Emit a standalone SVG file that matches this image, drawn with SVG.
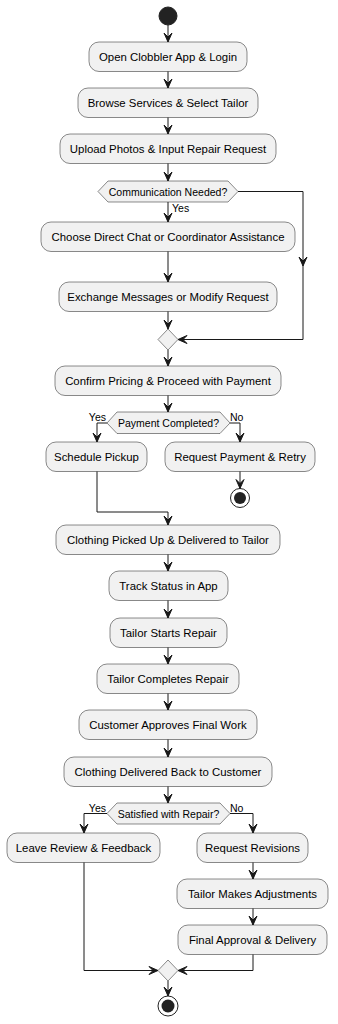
<svg xmlns="http://www.w3.org/2000/svg" width="338" height="1024" viewBox="0 0 338 1024">
<style>
.box{fill:#F1F1F1;stroke:#181818;stroke-width:0.5}
.t{font-family:"Liberation Sans",Arial,sans-serif;font-size:11.4px;fill:#000;text-anchor:middle}
.s{font-family:"Liberation Sans",Arial,sans-serif;font-size:10.5px;fill:#000}
.ln{fill:none;stroke:#181818;stroke-width:1}
.ah{fill:#181818;stroke:#181818;stroke-width:1}
</style>
<defs>
<polygon id="ad" points="-4,-9 0,0 4,-9 0,-5"/>
</defs>
<rect width="338" height="1024" fill="#FFFFFF"/>
<g id="start"><circle cx="168" cy="16" r="9" fill="#222222" stroke="#222222"/></g>
<g id="n1"><rect class="box" x="89" y="42" width="158" height="29.5" rx="10"/><text class="t" x="168" y="61">Open Clobbler App &amp; Login</text></g>
<g id="n2"><rect class="box" x="78" y="88" width="180" height="29.5" rx="10"/><text class="t" x="168" y="107">Browse Services &amp; Select Tailor</text></g>
<g id="n3"><rect class="box" x="60" y="134" width="216" height="29.5" rx="10"/><text class="t" x="168" y="153">Upload Photos &amp; Input Repair Request</text></g>
<g id="d1"><polygon class="box" points="98,191.5 108,181 228,181 238,191.5 228,202 108,202"/><text class="s" x="168" y="195.5" text-anchor="middle">Communication Needed?</text></g>
<g id="n4"><rect class="box" x="41" y="222" width="254" height="29.5" rx="10"/><text class="t" x="168" y="241">Choose Direct Chat or Coordinator Assistance</text></g>
<g id="n5"><rect class="box" x="59" y="282" width="218" height="29.5" rx="10"/><text class="t" x="168" y="301">Exchange Messages or Modify Request</text></g>
<g id="m1"><polygon class="box" points="168,329 178,339.5 168,350 158,339.5"/></g>
<g id="n6"><rect class="box" x="55" y="366" width="226" height="29.5" rx="10"/><text class="t" x="168" y="385">Confirm Pricing &amp; Proceed with Payment</text></g>
<g id="d2"><polygon class="box" points="107,423 117,412 220,412 230,423 220,433.5 117,433.5"/><text class="s" x="168.5" y="427" text-anchor="middle">Payment Completed?</text></g>
<g id="n7"><rect class="box" x="46" y="442" width="101" height="29.5" rx="10"/><text class="t" x="96.5" y="461">Schedule Pickup</text></g>
<g id="n8"><rect class="box" x="165" y="442" width="150" height="29.5" rx="10"/><text class="t" x="240" y="461">Request Payment &amp; Retry</text></g>
<g id="end1"><circle cx="240" cy="498" r="9.5" fill="none" stroke="#222222" stroke-width="1"/><circle cx="240" cy="498" r="6" fill="#222222"/></g>
<g id="n9"><rect class="box" x="56" y="525" width="224" height="29.5" rx="10"/><text class="t" x="168" y="544">Clothing Picked Up &amp; Delivered to Tailor</text></g>
<g id="n10"><rect class="box" x="109" y="571" width="119" height="29.5" rx="10"/><text class="t" x="168.5" y="590">Track Status in App</text></g>
<g id="n11"><rect class="box" x="110" y="618" width="117" height="29.5" rx="10"/><text class="t" x="168.5" y="637">Tailor Starts Repair</text></g>
<g id="n12"><rect class="box" x="97" y="664" width="142" height="29.5" rx="10"/><text class="t" x="168" y="683">Tailor Completes Repair</text></g>
<g id="n13"><rect class="box" x="79" y="710" width="178" height="29.5" rx="10"/><text class="t" x="168" y="729">Customer Approves Final Work</text></g>
<g id="n14"><rect class="box" x="64" y="757" width="208" height="29.5" rx="10"/><text class="t" x="168" y="776">Clothing Delivered Back to Customer</text></g>
<g id="d3"><polygon class="box" points="107,813.5 117,803 220,803 230,813.5 220,824 117,824"/><text class="s" x="168.5" y="817.5" text-anchor="middle">Satisfied with Repair?</text></g>
<g id="n15"><rect class="box" x="7" y="833" width="153" height="29.5" rx="10"/><text class="t" x="83.5" y="852">Leave Review &amp; Feedback</text></g>
<g id="n16"><rect class="box" x="197" y="833" width="111" height="29.5" rx="10"/><text class="t" x="252.5" y="852">Request Revisions</text></g>
<g id="n17"><rect class="box" x="177" y="879" width="151" height="29.5" rx="10"/><text class="t" x="252.5" y="898">Tailor Makes Adjustments</text></g>
<g id="n18"><rect class="box" x="178" y="925" width="149" height="29.5" rx="10"/><text class="t" x="252.5" y="944">Final Approval &amp; Delivery</text></g>
<g id="m2"><polygon class="box" points="168,960 178,970.5 168,981 158,970.5"/></g>
<g id="end2"><circle cx="168" cy="1006" r="10" fill="none" stroke="#222222" stroke-width="1"/><circle cx="168" cy="1006" r="6.5" fill="#222222"/></g>
<g id="connectors">
<path class="ln" d="M168,25 V42 M168,71.5 V88 M168,117.5 V134 M168,163.5 V181 M168,202 V222 M168,251.5 V282 M168,311.5 V329 M168,350 V366 M168,395.5 V412"/>
<path class="ln" d="M238,191.5 H303 V339.5 H178"/>
<path class="ln" d="M107,423 H97 V442 M230,423 H240 V442 M240,471.5 V488.5 M97,471.5 V512 H168 V525"/>
<path class="ln" d="M168,554.5 V571 M168,600.5 V618 M168,647.5 V664 M168,693.5 V710 M168,739.5 V757 M168,786.5 V803"/>
<path class="ln" d="M107,813.5 H84 V833 M230,813.5 H253 V833 M253,862.5 V879 M253,908.5 V925 M84,862.5 V970.5 H158 M253,954.5 V970.5 H178 M168,981 V996"/>
<use href="#ad" class="ah" x="168" y="42"/>
<use href="#ad" class="ah" x="168" y="88"/>
<use href="#ad" class="ah" x="168" y="134"/>
<use href="#ad" class="ah" x="168" y="181"/>
<use href="#ad" class="ah" x="168" y="222"/>
<use href="#ad" class="ah" x="168" y="282"/>
<use href="#ad" class="ah" x="168" y="329"/>
<use href="#ad" class="ah" x="168" y="366"/>
<use href="#ad" class="ah" x="168" y="412"/>
<use href="#ad" class="ah" x="303" y="266"/>
<use href="#ad" class="ah" transform="translate(178,339.5) rotate(90)"/>
<use href="#ad" class="ah" x="97" y="442"/>
<use href="#ad" class="ah" x="240" y="442"/>
<use href="#ad" class="ah" x="240" y="488.5"/>
<use href="#ad" class="ah" x="168" y="525"/>
<use href="#ad" class="ah" x="168" y="571"/>
<use href="#ad" class="ah" x="168" y="618"/>
<use href="#ad" class="ah" x="168" y="664"/>
<use href="#ad" class="ah" x="168" y="710"/>
<use href="#ad" class="ah" x="168" y="757"/>
<use href="#ad" class="ah" x="168" y="803"/>
<use href="#ad" class="ah" x="84" y="833"/>
<use href="#ad" class="ah" x="253" y="833"/>
<use href="#ad" class="ah" x="253" y="879"/>
<use href="#ad" class="ah" x="253" y="925"/>
<use href="#ad" class="ah" transform="translate(158,970.5) rotate(-90)"/>
<use href="#ad" class="ah" transform="translate(178,970.5) rotate(90)"/>
<use href="#ad" class="ah" x="168" y="996"/>
<text class="s" x="172" y="212">Yes</text>
<text class="s" x="106" y="421" text-anchor="end">Yes</text>
<text class="s" x="230" y="421">No</text>
<text class="s" x="106" y="811.5" text-anchor="end">Yes</text>
<text class="s" x="230" y="811.5">No</text>
</g>
</svg>
